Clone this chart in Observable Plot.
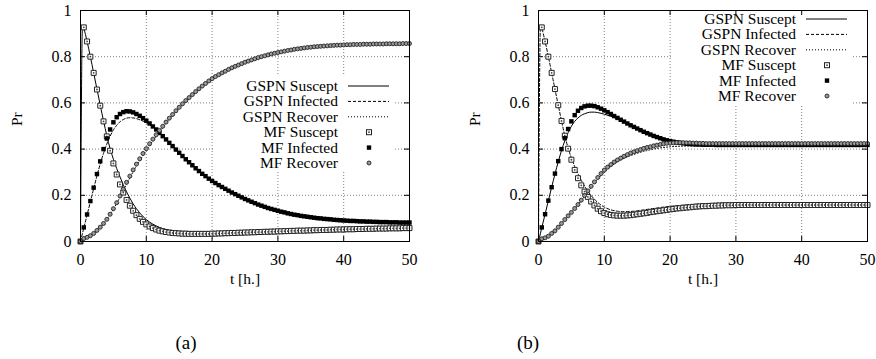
<!DOCTYPE html>
<html><head><meta charset="utf-8">
<script src="https://cdn.jsdelivr.net/npm/d3@7"></script>
<script src="https://cdn.jsdelivr.net/npm/@observablehq/plot@0.6"></script>
<style>
html,body{margin:0;padding:0;background:#fff;}
#wrap{position:relative;width:876px;height:359px;overflow:hidden;font-family:"Liberation Serif",serif;}
.panel{position:absolute;top:0;}
.cap{position:absolute;font-size:19px;transform:translate(-50%,-50%);font-family:"Liberation Serif",serif;}
</style></head><body><div id="wrap"></div>
<script>
// ---- axes / labels ----
const xTicks = [0, 10, 20, 30, 40, 50];
const yTicks = [0, 0.2, 0.4, 0.6, 0.8, 1];
const xInner = [10, 20, 30, 40];
const yInner = [0.2, 0.4, 0.6, 0.8];
const xLabel = "t [h.]";
const yLabel = "Pr";
const keyLabels = ["GSPN Suscept", "GSPN Infected", "GSPN Recover", "MF Suscept", "MF Infected", "MF Recover"];
const captions = ["(a)", "(b)"];

// ---- MF sample times ----
const tMF = [0,0.5,1,1.5,2,2.5,3,3.5,4,4.5,5,5.5,6,6.5,7,7.5,8,8.5,9,9.5,10,10.5,11,11.5,12,12.5,13,13.5,14,14.5,15,15.5,16,16.5,17,17.5,18,18.5,19,19.5,20,20.5,21,21.5,22,22.5,23,23.5,24,24.5,25,25.5,26,26.5,27,27.5,28,28.5,29,29.5,30,30.5,31,31.5,32,32.5,33,33.5,34,34.5,35,35.5,36,36.5,37,37.5,38,38.5,39,39.5,40,40.5,41,41.5,42,42.5,43,43.5,44,44.5,45,45.5,46,46.5,47,47.5,48,48.5,49,49.5,50];

// ---- GSPN line sample times ----
const tLine = [0,0.3,0.5,1,1.5,2,2.5,3,3.5,4,4.5,5,5.5,6,6.5,7,7.5,8,8.5,9,9.5,10,11,12,13,14,15,16,17,18,19,20,22,24,26,28,30,33,36,40,45,50];

// ---- panel (a) ----
const aMF_S = [0,0.927,0.866,0.800,0.730,0.658,0.588,0.520,0.455,0.393,0.338,0.290,0.247,0.212,0.180,0.155,0.133,0.114,0.098,0.085,0.074,
0.065,0.058,0.052,0.047,0.044,0.041,0.039,0.037,0.036,0.035,
0.034,0.034,0.033,0.033,0.033,0.033,0.033,0.033,0.033,0.034,
0.034,0.035,0.035,0.036,0.036,0.037,0.037,0.038,0.038,0.039,
0.039,0.040,0.040,0.041,0.041,0.042,0.042,0.043,0.043,0.044,
0.044,0.045,0.045,0.046,0.046,0.047,0.047,0.047,0.048,0.048,
0.049,0.049,0.050,0.050,0.050,0.051,0.051,0.052,0.052,0.052,
0.053,0.053,0.053,0.054,0.054,0.054,0.055,0.055,0.055,0.056,
0.056,0.056,0.056,0.057,0.057,0.057,0.057,0.058,0.058,0.058];
const aMF_I = [0,0.061,0.117,0.175,0.233,0.292,0.347,0.400,0.446,0.485,0.516,0.538,0.552,0.560,0.564,0.563,0.559,0.552,0.544,0.534,0.523,
0.511,0.498,0.485,0.470,0.456,0.442,0.427,0.413,0.398,0.384,
0.370,0.356,0.343,0.330,0.317,0.305,0.293,0.283,0.272,0.262,
0.253,0.244,0.236,0.228,0.220,0.212,0.205,0.198,0.191,0.184,
0.178,0.172,0.166,0.160,0.155,0.150,0.145,0.141,0.137,0.133,
0.129,0.126,0.122,0.119,0.116,0.114,0.111,0.109,0.107,0.105,
0.103,0.101,0.100,0.098,0.097,0.096,0.094,0.093,0.092,0.091,
0.090,0.089,0.089,0.088,0.087,0.087,0.086,0.086,0.085,0.085,
0.084,0.084,0.084,0.083,0.083,0.083,0.082,0.082,0.082,0.082];
const aMF_R = [0,0.013,0.018,0.025,0.035,0.048,0.062,0.078,0.096,0.118,0.142,0.168,0.197,0.226,0.256,0.283,0.310,0.335,0.358,0.381,0.402,
0.423,0.443,0.462,0.481,0.499,0.517,0.534,0.550,0.566,0.581,
0.596,0.610,0.623,0.636,0.649,0.661,0.673,0.684,0.695,0.705,
0.714,0.722,0.730,0.737,0.745,0.752,0.758,0.764,0.770,0.776,
0.781,0.786,0.791,0.796,0.800,0.804,0.808,0.812,0.815,0.818,
0.821,0.824,0.827,0.829,0.832,0.834,0.836,0.838,0.840,0.841,
0.843,0.844,0.845,0.846,0.847,0.848,0.849,0.850,0.850,0.851,
0.852,0.852,0.853,0.853,0.853,0.854,0.854,0.854,0.855,0.855,
0.855,0.855,0.856,0.856,0.856,0.856,0.856,0.857,0.857,0.857];
const aGSPN_S = [0,0.935,0.922,0.866,0.800,0.730,0.660,0.590,0.522,0.458,0.402,0.356,0.316,0.280,0.246,0.215,0.188,0.163,0.142,0.124,0.108,0.095,0.075,0.061,0.051,0.044,0.040,0.037,0.035,0.034,0.034,0.034,0.035,0.037,0.039,0.041,0.043,0.046,0.049,0.052,0.055,0.058];
const aGSPN_I = [0,0.035,0.058,0.115,0.172,0.229,0.284,0.336,0.382,0.422,0.456,0.483,0.503,0.518,0.528,0.534,0.536,0.535,0.532,0.527,0.521,0.514,0.495,0.471,0.443,0.414,0.385,0.357,0.331,0.306,0.283,0.262,0.228,0.198,0.172,0.150,0.133,0.114,0.101,0.091,0.085,0.082];
const aGSPN_R = [0,0.008,0.012,0.018,0.025,0.035,0.047,0.061,0.077,0.095,0.116,0.140,0.165,0.192,0.220,0.248,0.275,0.302,0.327,0.350,0.373,0.395,0.436,0.474,0.511,0.545,0.577,0.606,0.633,0.659,0.682,0.703,0.737,0.764,0.786,0.804,0.818,0.834,0.844,0.851,0.855,0.857];

// ---- panel (b) ----
const bMF_S = [0,0.927,0.866,0.800,0.730,0.660,0.590,0.522,0.458,0.402,0.354,0.310,0.274,0.243,0.216,0.193,0.173,0.156,0.142,0.131,0.123,
0.118,0.115,0.113,0.112,0.112,0.112,0.113,0.114,0.116,0.118,
0.120,0.122,0.124,0.127,0.129,0.131,0.133,0.135,0.137,0.139,
0.141,0.143,0.144,0.146,0.147,0.148,0.150,0.151,0.152,0.153,
0.153,0.154,0.155,0.155,0.156,0.156,0.157,0.157,0.157,0.158,
0.158,0.158,0.158,0.158,0.158,0.158,0.158,0.158,0.158,0.158,
0.158,0.158,0.158,0.158,0.158,0.158,0.158,0.158,0.158,0.158,
0.158,0.158,0.158,0.158,0.158,0.158,0.158,0.158,0.158,0.158,
0.158,0.158,0.158,0.158,0.158,0.158,0.158,0.158,0.158,0.158];
const bMF_I = [0,0.061,0.118,0.177,0.235,0.294,0.348,0.400,0.447,0.487,0.520,0.547,0.566,0.578,0.585,0.588,0.588,0.586,0.581,0.575,0.568,
0.560,0.552,0.543,0.535,0.527,0.519,0.511,0.503,0.496,0.489,
0.482,0.475,0.469,0.463,0.457,0.452,0.447,0.442,0.438,0.435,
0.432,0.429,0.427,0.425,0.423,0.422,0.421,0.420,0.420,0.419,
0.419,0.419,0.419,0.418,0.418,0.418,0.418,0.418,0.418,0.418,
0.418,0.418,0.418,0.418,0.418,0.418,0.418,0.418,0.418,0.418,
0.418,0.418,0.418,0.418,0.418,0.418,0.418,0.418,0.418,0.418,
0.418,0.418,0.418,0.418,0.418,0.418,0.418,0.418,0.418,0.418,
0.418,0.418,0.418,0.418,0.418,0.418,0.418,0.418,0.418,0.418];
const bMF_R = [0,0.012,0.016,0.023,0.035,0.046,0.062,0.078,0.095,0.111,0.126,0.143,0.160,0.179,0.199,0.219,0.239,0.258,0.277,0.294,0.309,
0.322,0.333,0.344,0.353,0.361,0.369,0.376,0.383,0.388,0.393,
0.398,0.403,0.407,0.410,0.414,0.417,0.420,0.423,0.425,0.426,
0.427,0.428,0.428,0.428,0.427,0.427,0.426,0.426,0.425,0.425,
0.424,0.424,0.424,0.424,0.424,0.424,0.424,0.424,0.424,0.424,
0.424,0.424,0.424,0.424,0.424,0.424,0.424,0.424,0.424,0.424,
0.424,0.424,0.424,0.424,0.424,0.424,0.424,0.424,0.424,0.424,
0.424,0.424,0.424,0.424,0.424,0.424,0.424,0.424,0.424,0.424,
0.424,0.424,0.424,0.424,0.424,0.424,0.424,0.424,0.424,0.424];
const bGSPN_S = [0,0.036,0.060,0.118,0.177,0.235,0.292,0.345,0.394,0.436,0.471,0.499,0.520,0.535,0.546,0.553,0.558,0.560,0.560,0.558,0.555,0.551,0.542,0.531,0.519,0.506,0.493,0.480,0.468,0.457,0.447,0.439,0.428,0.422,0.420,0.419,0.419,0.419,0.419,0.419,0.419,0.419];
const bGSPN_I = [0,0.935,0.922,0.866,0.800,0.730,0.660,0.590,0.522,0.458,0.405,0.362,0.325,0.293,0.265,0.240,0.218,0.199,0.183,0.169,0.158,0.149,0.137,0.131,0.129,0.130,0.133,0.137,0.141,0.145,0.149,0.152,0.157,0.161,0.164,0.166,0.167,0.168,0.168,0.168,0.168,0.168];
const bGSPN_R = [0,0.008,0.012,0.016,0.023,0.034,0.046,0.061,0.077,0.094,0.110,0.125,0.142,0.159,0.177,0.196,0.215,0.234,0.253,0.270,0.286,0.300,0.325,0.345,0.360,0.372,0.382,0.390,0.397,0.403,0.407,0.410,0.413,0.414,0.414,0.414,0.414,0.413,0.413,0.413,0.413,0.413];

// ---- drawing ----
const FONT = "Liberation Serif";

function keyMark(boxTop, boxRightGap) {
  return (index, scales, values, dims) => {
    const {width, marginRight} = dims;
    const fr = width - marginRight;
    const top = boxTop;
    const g = d3.create("svg:g");
    g.append("rect").attr("x", fr - 196).attr("y", top).attr("width", 196 - boxRightGap).attr("height", 98).attr("fill", "white");
    const dashes = [null, "3,2", "1,2"];
    keyLabels.forEach((lab, i) => {
      const yy = top + 12 + i * 15.4;
      g.append("text").attr("x", fr - 71).attr("y", yy).attr("dy", "0.32em")
        .attr("text-anchor", "end").attr("font-size", 15.5).attr("font-family", FONT).attr("fill", "black").text(lab);
      if (i < 3) {
        const l = g.append("line").attr("x1", fr - 61).attr("x2", fr - 20).attr("y1", yy).attr("y2", yy)
          .attr("stroke", "black").attr("stroke-width", 1);
        if (dashes[i]) l.attr("stroke-dasharray", dashes[i]);
      } else if (i === 3) {
        g.append("rect").attr("x", fr - 42.5).attr("y", yy - 2.5).attr("width", 5).attr("height", 5)
          .attr("fill", "white").attr("stroke", "#222").attr("stroke-width", 1);
        g.append("circle").attr("cx", fr - 40).attr("cy", yy).attr("r", 0.9).attr("fill", "#444");
      } else if (i === 4) {
        g.append("rect").attr("x", fr - 42.2).attr("y", yy - 2.2).attr("width", 4.4).attr("height", 4.4).attr("fill", "black");
      } else {
        g.append("circle").attr("cx", fr - 40).attr("cy", yy).attr("r", 2).attr("fill", "#999").attr("stroke", "#222").attr("stroke-width", 0.9);
      }
    });
    return g.node();
  };
}

function makePanel(cfg) {
  const W = 438, H = 295, mt = 10, mb = 54;
  const frameH = H - mt - mb;
  const frameW = W - cfg.marginLeft - cfg.marginRight;
  const mf = tMF.map((t, i) => ({t, S: cfg.S[i], I: cfg.I[i], R: cfg.R[i]}));
  const gs = tLine.map((t, i) => ({t, S: cfg.gS[i], I: cfg.gI[i], R: cfg.gR[i]}));
  return Plot.plot({
    width: W, height: H, marginTop: mt, marginBottom: mb,
    marginLeft: cfg.marginLeft, marginRight: cfg.marginRight,
    style: {fontFamily: FONT, fontSize: "16px", background: "white", color: "black"},
    x: {domain: [0, 50], ticks: xTicks, tickSize: 0, tickPadding: 12, label: null, tickFormat: d => String(d)},
    y: {domain: [0, 1], ticks: yTicks, tickSize: 0, tickPadding: 9, label: null, tickFormat: d => String(d)},
    marks: [
      Plot.ruleX(xInner, {x: d => d, stroke: "#808080", strokeDasharray: "1,2", strokeWidth: 1}),
      Plot.ruleY(yInner, {y: d => d, stroke: "#808080", strokeDasharray: "1,2", strokeWidth: 1}),
      keyMark(cfg.keyTop, cfg.keyGap),
      Plot.ruleX(xInner, {x: d => d, insetTop: frameH - 5, stroke: "black"}),
      Plot.ruleX(xInner, {x: d => d, insetBottom: frameH - 5, stroke: "black"}),
      Plot.ruleY(yInner, {y: d => d, insetRight: frameW - 5, stroke: "black"}),
      Plot.ruleY(yInner, {y: d => d, insetLeft: frameW - 5, stroke: "black"}),
      Plot.line(gs, {x: "t", y: "S", stroke: "black", strokeWidth: 1, curve: "monotone-x", strokeDasharray: cfg.dashS}),
      Plot.line(gs, {x: "t", y: "I", stroke: "black", strokeWidth: 1, curve: "monotone-x", strokeDasharray: cfg.dashI}),
      Plot.line(gs, {x: "t", y: "R", stroke: "black", strokeWidth: 1, curve: "monotone-x", strokeDasharray: "1,2"}),
      Plot.dot(mf, {x: "t", y: "S", symbol: "square", r: 2.8, stroke: "#222", fill: "white", strokeWidth: 1}),
      Plot.dot(mf, {x: "t", y: "S", r: 0.9, fill: "#444", stroke: null}),
      Plot.dot(mf, {x: "t", y: "I", symbol: "square", r: 2.5, fill: "black", stroke: null}),
      Plot.dot(mf, {x: "t", y: "R", r: 2, stroke: "#222", fill: "#999", strokeWidth: 0.9}),
      Plot.frame({stroke: "black", strokeWidth: 1}),
      Plot.text([xLabel], {text: d => d, frameAnchor: "bottom", dy: 42, fontSize: 15.5}),
      Plot.text([yLabel], {text: d => d, frameAnchor: "left", dx: -63, rotate: -90, fontSize: 15.5})
    ]
  });
}

const wrap = document.getElementById("wrap");
const pa = makePanel({S: aMF_S, I: aMF_I, R: aMF_R, gS: aGSPN_S, gI: aGSPN_I, gR: aGSPN_R,
  marginLeft: 80, marginRight: 29, keyTop: 74, keyGap: 16, dashS: null, dashI: "3,2"});
const pb = makePanel({S: bMF_S, I: bMF_I, R: bMF_R, gS: bGSPN_S, gI: bGSPN_I, gR: bGSPN_R,
  marginLeft: 100, marginRight: 9, keyTop: 7, keyGap: 14, dashS: null, dashI: "3,2"});
pa.classList.add("panel"); pa.style.left = "0px";
pb.classList.add("panel"); pb.style.left = "438px";
wrap.appendChild(pa); wrap.appendChild(pb);
[[captions[0], 186], [captions[1], 528]].forEach(([c, x]) => {
  const d = document.createElement("div");
  d.className = "cap"; d.textContent = c;
  d.style.left = x + "px"; d.style.top = "343px";
  wrap.appendChild(d);
});
</script>
</body></html>
